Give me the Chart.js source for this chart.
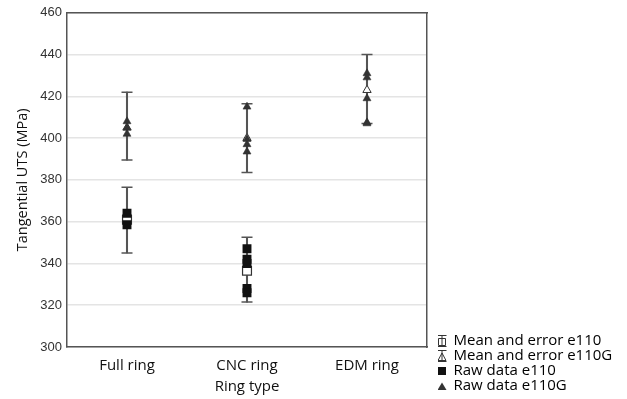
<!DOCTYPE html>
<html>
<head>
<meta charset="utf-8">
<script src="https://cdn.jsdelivr.net/npm/chart.js@4.4.1/dist/chart.umd.min.js"></script>
<style>
  html, body { margin: 0; padding: 0; background: #fff; }
  #plot { display: block; }
</style>
</head>
<body>
<canvas id="plot" width="627" height="399"></canvas>
<script>
// categorias del eje x
const ringTypes = ['Full ring', 'CNC ring', 'EDM ring'];
const yMin = 300, yMax = 460, yStep = 20;

// e110: media y barras de error (no hay EDM)
const meanE110 = [361, 336.5, null];
const lowE110 = [345, 321.5, null];
const highE110 = [376.5, 352.5, null];

// e110G: media y barras de error
const meanE110G = [405, 400, 423];
const lowE110G = [389.5, 383.5, 407];
const highE110G = [422, 416.5, 440];

// datos crudos por categoria
const rawE110 = [[364, 358.5], [347, 342, 340, 328, 326], []];
const rawE110G = [[408, 405, 402], [415, 399.5, 397, 393.5], [431, 429, 419, 407.5, 407]];

const legendNames = ['Mean and error e110', 'Mean and error e110G', 'Raw data e110', 'Raw data e110G'];

let toPoints = (arr) => arr.flatMap((vals, i) => vals.map(v => ({x: ringTypes[i], y: v})));
let toMeans = (arr) => arr.map((v, i) => ({x: ringTypes[i], y: v}));
let toRanges = (lo, hi) => lo.map((l, i) => l == null ? null : [l, hi[i]]);
let toCaps = (lo, hi) => toMeans(lo).concat(toMeans(hi)).filter(p => p.y != null);

const ink = '#333';
const barInk = '#555';

// iconos de la leyenda
let makeIcon = (kind) => {
    let c = document.createElement('canvas');
    c.width = 12; c.height = 14;
    let g = c.getContext('2d');
    g.strokeStyle = ink; g.fillStyle = ink; g.lineWidth = 1;
    if (kind === 'meanSq' || kind === 'meanTri') {
        g.beginPath();
        g.moveTo(1.5, 1.5); g.lineTo(10.5, 1.5);
        g.moveTo(1.5, 12.5); g.lineTo(10.5, 12.5);
        g.moveTo(6, 1.5); g.lineTo(6, 12.5);
        g.stroke();
        g.fillStyle = '#fff';
        g.beginPath();
        if (kind === 'meanSq') g.rect(2.5, 4.5, 7, 7);
        else { g.moveTo(6, 4); g.lineTo(10, 11.5); g.lineTo(2, 11.5); g.closePath(); }
        g.fill(); g.stroke();
        g.beginPath(); g.moveTo(6, 4.5); g.lineTo(6, 11.5); g.stroke();
    } else if (kind === 'rawSq') {
        g.fillStyle = '#111';
        g.fillRect(2, 3, 8, 8);
    } else {
        g.beginPath(); g.moveTo(6, 3.5); g.lineTo(10.5, 11); g.lineTo(1.5, 11); g.closePath(); g.fill();
    }
    return c;
};
const icons = [makeIcon('meanSq'), makeIcon('meanTri'), makeIcon('rawSq'), makeIcon('rawTri')];

// la leyenda queda limitada a (ancho - padding)/6; luego se ensancha hasta el borde
const padRight = 101.4;
const widenLegend = {
    id: 'widenLegend',
    afterLayout: (chart) => {
        let lg = chart.legend;
        if (lg) { lg.right = chart.width; lg.width = chart.width - lg.left; }
    }
};

let plotRef = document.getElementById('plot');

let config = {
    type: 'bar',
    data: {
        labels: ringTypes,
        datasets: [
            // barras de error (verticales)
            { type: 'bar', data: toRanges(lowE110, highE110), backgroundColor: barInk, barThickness: 1.4, grouped: false, order: 4, xAxisID: 'x', yAxisID: 'y' },
            { type: 'bar', data: toRanges(lowE110G, highE110G), backgroundColor: barInk, barThickness: 1.4, grouped: false, order: 4, xAxisID: 'x', yAxisID: 'y' },
            // tapas de las barras
            { type: 'line', showLine: false, data: toCaps(lowE110, highE110).concat(toCaps(lowE110G, highE110G)),
              pointStyle: 'line', pointRadius: 5.5, borderColor: barInk, borderWidth: 1.5, order: 3, xAxisID: 'x', yAxisID: 'y' },
            // medias
            { type: 'line', showLine: false, data: toMeans(meanE110), pointStyle: 'rect', pointRadius: 6.3,
              backgroundColor: '#fff', borderColor: ink, borderWidth: 1.2, order: 2, xAxisID: 'x', yAxisID: 'y' },
            { type: 'line', showLine: false, data: toMeans(meanE110G), pointStyle: 'triangle', pointRadius: 4.8,
              backgroundColor: '#fff', borderColor: ink, borderWidth: 1, order: 2, xAxisID: 'x', yAxisID: 'y' },
            // datos crudos
            { type: 'line', showLine: false, data: toPoints(rawE110), pointStyle: 'rect', pointRadius: 6.3,
              backgroundColor: '#111', borderColor: '#111', borderWidth: 0, order: 1, xAxisID: 'x', yAxisID: 'y' },
            { type: 'line', showLine: false, data: toPoints(rawE110G), pointStyle: 'triangle', pointRadius: 4.6,
              backgroundColor: ink, borderColor: ink, borderWidth: 0.6, order: 1, xAxisID: 'x', yAxisID: 'y' }
        ]
    },
    options: {
        responsive: false,
        animation: false,
        layout: { padding: { left: 0, top: 12, right: padRight, bottom: 5.5 } },
        plugins: {
            tooltip: { enabled: false },
            legend: {
                position: 'right',
                align: 'end',
                labels: {
                    usePointStyle: true,
                    boxWidth: 8,
                    boxHeight: 14,
                    padding: 0,
                    color: '#111',
                    font: { family: 'Open Sans', size: 15 },
                    generateLabels: () => legendNames.map((name, i) => ({
                        text: name, pointStyle: icons[i], fillStyle: ink, strokeStyle: ink,
                        lineWidth: 0, hidden: false, datasetIndex: i + 3
                    }))
                }
            }
        },
        scales: {
            x: {
                type: 'category',
                position: 'bottom',
                offset: true,
                grid: { display: false },
                border: { display: true, color: barInk, width: 1.5 },
                ticks: { color: '#111', font: { family: 'Open Sans', size: 15 }, padding: 2 },
                title: { display: true, text: 'Ring type', color: '#111', font: { family: 'Open Sans', size: 15 }, padding: { top: 0, bottom: -2 } },
                afterFit: (s) => { s.height = 399 - 347 - 5.5; }
            },
            x2: {
                type: 'category',
                position: 'top',
                offset: true,
                grid: { display: false, drawTicks: false },
                ticks: { display: false },
                border: { display: true, color: barInk, width: 1.5 },
                afterFit: (s) => { s.height = 0; }
            },
            y: {
                type: 'linear',
                position: 'left',
                min: yMin, max: yMax,
                grid: { color: '#e4e4e4', lineWidth: 1.5, drawTicks: false },
                border: { display: true, color: barInk, width: 1.5 },
                ticks: { stepSize: yStep, color: '#333', font: { family: 'Liberation Sans', size: 13 }, padding: 5 },
                title: { display: true, text: 'Tangential UTS (MPa)', color: '#111', font: { family: 'Open Sans', size: 14.5 }, padding: { top: 14, bottom: 0 } },
                afterFit: (s) => { s.width = 67; }
            },
            y2: {
                type: 'linear',
                position: 'right',
                min: yMin, max: yMax,
                grid: { display: false, drawTicks: false },
                ticks: { display: false },
                border: { display: true, color: barInk, width: 1.5 },
                afterFit: (s) => { s.width = 11; }
            }
        }
    },
    plugins: [widenLegend]
};

let chart1 = new Chart(plotRef, config);
</script>
</body>
</html>
